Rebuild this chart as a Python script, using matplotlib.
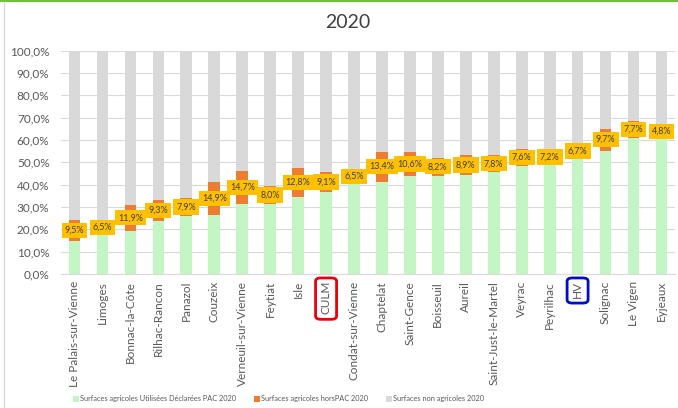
import matplotlib
matplotlib.use("Agg")
import matplotlib.pyplot as plt
import numpy as np
from matplotlib.patches import FancyBboxPatch
from matplotlib.ticker import FuncFormatter, MultipleLocator

plt.rcParams['font.family'] = ['Lato', 'DejaVu Sans']

communes = ["Le Palais-sur-Vienne", "Limoges", "Bonnac-la-Côte", "Rilhac-Rancon", "Panazol",
            "Couzeix", "Verneuil-sur-Vienne", "Feytiat", "Isle", "CULM", "Condat-sur-Vienne",
            "Chaptelat", "Saint-Gence", "Boisseuil", "Aureil", "Saint-Just-le-Martel", "Veyrac",
            "Peyrilhac", "HV", "Solignac", "Le Vigen", "Eyjeaux"]
# percentages
sau_pac = [14.8, 17.5, 19.2, 23.8, 26.0, 26.4, 31.4, 31.4, 34.5, 36.6, 40.5,
           41.4, 43.9, 43.9, 44.4, 45.5, 48.4, 48.8, 51.8, 55.3, 60.8, 61.5]
hors_pac = [9.5, 6.5, 11.9, 9.3, 7.9, 14.9, 14.7, 8.0, 12.8, 9.1, 6.5,
            13.4, 10.6, 8.2, 8.9, 7.8, 7.6, 7.2, 6.7, 9.7, 7.7, 4.8]
non_agri = [100 - a - b for a, b in zip(sau_pac, hors_pac)]

series_names = ["Surfaces agricoles Utilisées Déclarées PAC 2020",
                "Surfaces agricoles horsPAC 2020",
                "Surfaces non agricoles 2020"]
colors = ["#C4F5C4", "#ED7D31", "#D9D9D9"]
highlights = {"CULM": "#E8000B", "HV": "#0010C0"}

W, H = 678, 408
fig = plt.figure(figsize=(W / 100, H / 100), dpi=100)
ax = fig.add_axes([60.6 / W, 134 / H, (675.4 - 60.6) / W, (357.3 - 134) / H])

x = np.arange(len(communes))
bw = 0.42
s1 = np.array(sau_pac) / 100
s2 = np.array(hors_pac) / 100
s3 = np.array(non_agri) / 100
b1 = ax.bar(x, s1, bw, color=colors[0], label=series_names[0], zorder=2)
b2 = ax.bar(x, s2, bw, bottom=s1, color=colors[1], label=series_names[1], zorder=2)
b3 = ax.bar(x, s3, bw, bottom=s1 + s2, color=colors[2], label=series_names[2], zorder=2)

for xi, a, b in zip(x, s1, s2):
    ax.text(xi, a + b / 2, f"{b * 100:.1f}".replace('.', ',') + "%", ha='center', va='center',
            fontsize=6.5, color='#404040', zorder=4,
            bbox=dict(boxstyle='square,pad=0.35', facecolor='#FFC000', edgecolor='none'))

ax.set_xlim(-0.5, len(communes) - 0.5)
ax.set_ylim(0, 1.0)
ax.yaxis.set_major_locator(MultipleLocator(0.1))
ax.yaxis.set_major_formatter(FuncFormatter(lambda v, p: f"{v * 100:.1f}".replace('.', ',') + "%"))
ax.grid(axis='y', color='#D9D9D9', linewidth=0.8, zorder=0)
ax.set_axisbelow(True)
for s in ['top', 'right', 'left']:
    ax.spines[s].set_visible(False)
ax.spines['bottom'].set_color('#D9D9D9')
ax.tick_params(axis='both', length=0, colors='#595959', labelsize=8.5)
ax.tick_params(axis='y', pad=8)
ax.set_xticks(x)
ax.set_xticklabels(communes, rotation=90, rotation_mode='anchor', ha='right', va='center')
ax.tick_params(axis='x', pad=5)

fig.text(348 / W, 1 - 22 / H, "2020", ha='center', va='center', fontsize=14, color='#404040')

leg = fig.legend(handles=[b1, b2, b3], labels=series_names, loc='center left',
                 bbox_to_anchor=(66 / W, 9 / H), ncol=3, frameon=False, fontsize=5.3,
                 handlelength=0.8, handleheight=0.8, handletextpad=0.2, columnspacing=2.4,
                 labelcolor='#595959')

# chart border decorations
fig.add_artist(plt.Line2D([0, 1], [1 - 0.8 / H, 1 - 0.8 / H], color='#70C040', linewidth=1.6,
                          transform=fig.transFigure))
fig.add_artist(plt.Line2D([3.5 / W, 3.5 / W], [0, 1 - 2 / H], color='#D9D9D9', linewidth=1,
                          transform=fig.transFigure))

# highlight boxes around specific tick labels
fig.canvas.draw()
renderer = fig.canvas.get_renderer()
inv = fig.transFigure.inverted()
for lbl in ax.get_xticklabels():
    name = lbl.get_text()
    if name in highlights:
        bb = lbl.get_window_extent(renderer)
        x0, y0 = bb.x0 - 5, bb.y0 - 5
        x1, y1 = bb.x1 + 5, bb.y1 + 3
        (fx0, fy0) = inv.transform((x0, y0))
        (fx1, fy1) = inv.transform((x1, y1))
        patch = FancyBboxPatch((fx0, fy0), fx1 - fx0, fy1 - fy0,
                               boxstyle='round,pad=0,rounding_size=0.008',
                               transform=fig.transFigure, fill=False,
                               edgecolor=highlights[name], linewidth=2)
        fig.add_artist(patch)

fig.savefig("out.png", dpi=100)
